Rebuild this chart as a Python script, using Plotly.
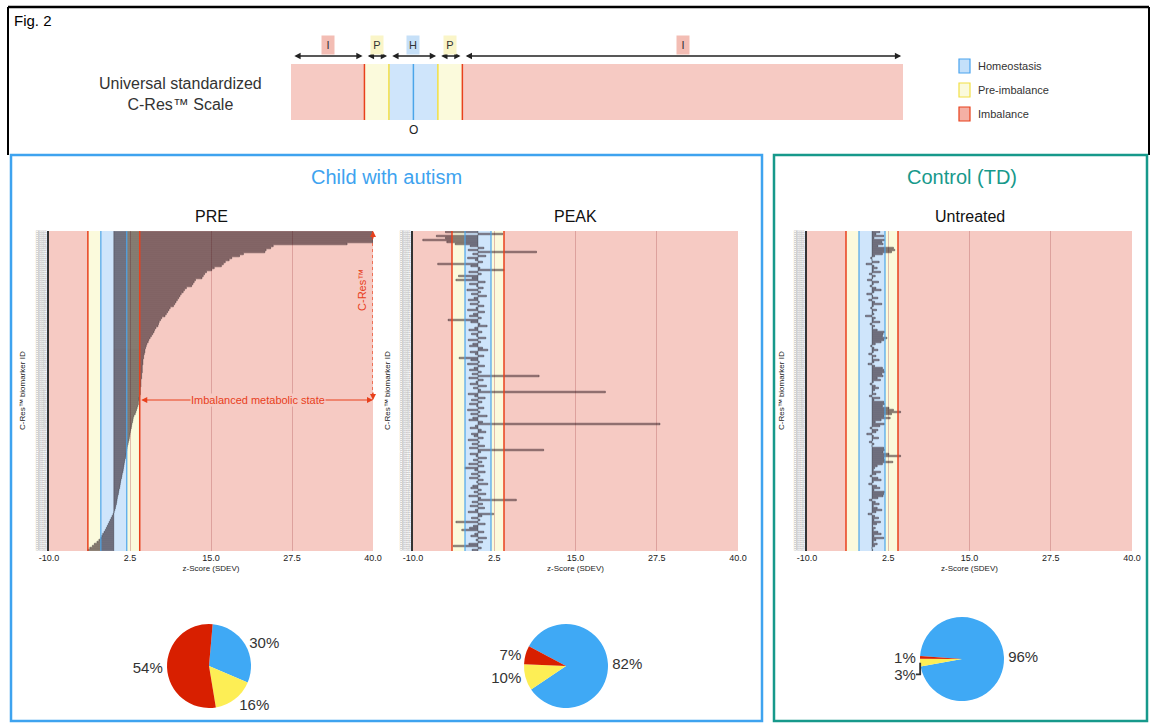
import plotly.graph_objects as go

# ---------------- DATA ----------------
Z_TICKS = [-10, 2.5, 15, 27.5, 40]
Z_TICK_TEXT = ["-10.0", "2.5", "15.0", "27.5", "40.0"]
Z_RANGE = [-10, 40]

# zone limits of the C-Res scale (z-score)
ZONES = [(-10, -4, "I"), (-4, -2, "P"), (-2, 2, "H"), (2, 4, "P"), (4, 40, "I")]

PIE_LABELS = ["Homeostasis", "Pre-imbalance", "Imbalance"]
PRE_PIE = [30, 16, 54]
PEAK_PIE = [82, 10, 7]
UNTREATED_PIE = [96, 3, 1]

# PRE z-scores, top row to bottom row
PRE_Z = [40, 40, 40, 40, 40, 40, 36,
         24.6, 24.2, 23.5, 23.3, 20.0, 19.4, 18.2, 17.8, 17.2, 16.9, 16.6,
         15.5, 15.1, 14.3, 14.0, 13.8, 13.6, 12.6, 12.4, 12.2, 12.0,
         11.2, 10.9, 10.7, 10.4, 10.2, 10.0, 9.8, 9.6, 9.4, 9.2,
         8.7, 8.5, 8.3, 8.1, 7.9, 7.4, 7.2, 7.0, 6.9, 6.8,
         6.5, 6.3, 6.2, 6.0, 5.8, 5.6, 5.4, 5.3, 5.1, 5.0,
         4.9, 4.8, 4.8, 4.7, 4.6, 4.6,
         4.5, 4.5, 4.5, 4.4, 4.4, 4.4, 4.4, 4.3, 4.3, 4.3,
         4.2, 4.2, 4.2, 4.2, 4.1, 4.1, 4.1, 4.1, 4.0,
         3.9, 3.9, 3.8, 3.8, 3.7, 3.6, 3.5, 3.4, 3.3, 3.1,
         3.0, 2.95, 2.9, 2.8, 2.75, 2.7, 2.6, 2.55,
         2.5, 2.45, 2.4, 2.35, 2.25, 2.2, 2.1, 2.05,
         2.0, 1.95, 1.9, 1.85, 1.8, 1.7, 1.65, 1.6, 1.55,
         1.5, 1.45, 1.4, 1.3, 1.25, 1.2, 1.1, 1.05,
         1.0, 0.95, 0.9, 0.8, 0.75, 0.7, 0.6, 0.55,
         0.5, 0.45, 0.4, 0.3, 0.25, 0.15, 0.05,
         -0.1, -0.25, -0.4, -0.55, -0.7, -0.85, -1.0,
         -1.15, -1.3, -1.5, -1.7, -1.85,
         -2.0, -2.3, -2.6, -3.0, -3.3, -3.7, -4.0]

PEAK_Z = [-5.0, 3.8, -6.4, -5.0, -8.5, -4.8, -3.5, -1.2, 0.9, -1.5,
          9.0, -0.8, 1.2, -1.6, -0.4, 0.7, -6.2, -1.1, 0.3, 4.0,
          -1.4, 0.5, -3.0, -0.9, -3.4, 1.1, -1.3, -0.2, 0.8, -1.7,
          0.4, -1.0, 1.3, -0.6, -1.5, 0.2, -1.2, 0.9, -0.3, -1.6,
          1.0, -0.7, -1.3, 0.5, -4.6, -1.1, 0.3, 1.4, -0.5, -1.4,
          0.6, -1.0, -0.2, 1.2, -1.5, 0.4, -0.8, -1.3, 0.7, 1.5,
          -1.2, -0.4, 0.9, -2.9, -1.1, 0.2, -1.6, 1.0, -0.6, -1.3,
          0.5, -0.9, 9.4, -1.4, 0.8, -0.3, -1.2, 1.3, -0.7, 0.4,
          19.6, -1.5, -0.5, 1.1, -1.0, 0.6, -1.3, -0.2, 0.9, -1.6,
          0.3, -1.1, 1.4, -0.8, -1.4, 0.7, 28.0, -0.4, -1.2, 0.5,
          1.2, -1.0, -0.6, 0.8, -1.5, 0.2, -0.9, 1.0, -1.3, 10.1,
          0.4, -1.2, -0.3, 1.3, -0.7, 0.6, -1.4, 0.9, -2.0, -0.5,
          1.1, -1.0, 0.3, -1.3, 0.8, -0.2, 1.5, -0.8, -1.1, 0.5,
          -0.6, 1.2, -1.4, 0.4, 5.9, -0.9, 0.7, -1.2, 1.0, -0.4,
          -1.5, 2.4, 0.6, -1.0, 0.3, -3.4, 1.1, -0.7, -1.3, -2.5,
          0.9, -0.5, -1.1, 1.3, -0.3, 0.7, -1.4, -3.8, 0.5, -0.9]

UNTREATED_Z = [1.2, 0.6, 1.8, 0.3, 1.9, 1.5, 1.7, 0.9, 3.3, 3.5,
               3.0, 1.6, 0.4, -0.2, 0.0, 1.1, -0.9, 0.3, 0.8, 0.2,
               1.3, -0.4, 0.5, 0.1, -0.7, 1.0, 0.2, -0.3, 0.6, 1.4,
               0.3, -0.8, 0.1, 0.9, -0.5, 0.4, 1.5, 0.2, -0.2, 0.7,
               0.1, 0.3, -1.0, 0.5, 0.2, 1.2, -0.3, 0.4, 0.1, 0.8,
               1.9, 1.7, 1.6, 2.3, 1.8, 1.4, 0.5, -0.2, 0.3, 0.9,
               0.2, -0.5, 0.6, 0.1, 1.1, 0.3, -0.6, 0.4, 1.6, 1.8,
               1.9, 1.5, 1.7, 0.8, 1.3, 0.2, -0.3, 0.5, 1.0, 0.4,
               0.1, 0.6, -0.4, 1.2, 0.3, 1.8, 1.9, 1.6, 2.6, 3.3,
               4.4, 3.0, 1.8, 2.8, 1.4, 0.5, 1.9, 1.2, -0.3, 0.9,
               0.6, -0.8, 0.2, 1.0, 0.1, -0.4, 0.3, 0.0, 1.8, 1.9,
               1.7, 2.6, 4.4, 1.8, 1.9, 3.2, 1.6, 0.8, 0.4, 0.2,
               1.3, 0.6, -0.3, 0.9, 1.4, 0.2, -0.5, 0.7, 1.2, 0.3,
               1.9, 1.8, 1.7, 0.9, -0.4, 0.5, 1.1, 0.2, 0.8, 1.5,
               0.6, -0.6, 0.4, 1.0, 0.3, 1.3, 0.7, 0.1, 0.5, 0.2,
               0.9, 1.4, 0.3, 1.8, 0.6, 0.2, 0.8, 0.4, 0.0, 0.1]

ROWS = list(range(len(PRE_Z)))
BIOMARKER_IDS = ["CR%04d" % (i + 1) for i in ROWS]

# ---------------- STYLE ----------------
W, H = 1150, 723
FONT = "Liberation Sans, Arial, Helvetica, sans-serif"
PINK, YEL, BLUE = "#f6cac3", "#fbfadc", "#cfe5fb"
ZONE_FILL = {"I": PINK, "P": YEL, "H": BLUE}
LAB_FILL = {"I": "#f3bdb4", "P": "#faf5c8", "H": "#c6e0f8"}
RED_LINE, BLUE_LINE, YEL_LINE = "#e8401c", "#4ba5ea", "#f2df45"
PIE_COLORS = ["#3fa9f5", "#fdee55", "#d81f00"]
BAR_FILL = "rgba(60,15,20,0.42)"
BAR_EDGE = "rgba(5,8,18,0.75)"
AUTISM_BLUE = "#3ea3ef"
TEAL = "#17998b"


def px(x):
    return x / W


def py(y):
    return 1 - y / H


def note(x, y, text, size=11, color="#222", xanchor="center", **kw):
    d = dict(xref="paper", yref="paper", x=px(x), y=py(y), text=text, showarrow=False,
             xanchor=xanchor, yanchor="middle", font=dict(size=size, color=color))
    d.update(kw)
    return d


fig = go.Figure()
shapes, annots = [], []

# ---------------- top scale ----------------
fig.update_layout(
    xaxis=dict(domain=[px(291), px(903)], range=Z_RANGE, visible=False, anchor="y",
               fixedrange=True, automargin=False),
    yaxis=dict(domain=[py(140), py(30)], range=[0, 110], visible=False, anchor="x",
               fixedrange=True, automargin=False),
)
for a, b, k in ZONES:
    shapes.append(dict(type="rect", xref="x", yref="y", x0=a, x1=b, y0=20, y1=76,
                       fillcolor=ZONE_FILL[k], line_width=0, layer="below"))
for v, c in [(-4, RED_LINE), (4, RED_LINE), (-2, YEL_LINE), (2, YEL_LINE), (0, BLUE_LINE)]:
    shapes.append(dict(type="line", xref="x", yref="y", x0=v, x1=v, y0=20, y1=76,
                       line=dict(color=c, width=1.5)))
for a, b, k in ZONES:
    annots.append(dict(xref="x", yref="y", axref="x", ayref="y", x=b - 0.15, y=84,
                       ax=a + 0.15, ay=84, text="", showarrow=True, arrowside="end+start",
                       arrowhead=2, arrowsize=0.9, arrowwidth=1.4, arrowcolor="#222"))
    annots.append(dict(xref="x", yref="y", x=(a + b) / 2, y=95, text=k, showarrow=False,
                       xanchor="center", yanchor="middle", width=12, height=18,
                       bgcolor=LAB_FILL[k], borderpad=0, font=dict(size=11, color="#333")))
annots.append(dict(xref="x", yref="y", x=0, y=10, text="O", showarrow=False,
                   xanchor="center", yanchor="middle", font=dict(size=12, color="#222")))
annots.append(note(180, 94, "Universal standardized<br>C-Res™ Scale", size=16, color="#333"))

# legend
for i, (name, fill, edge) in enumerate([("Homeostasis", "#c4e0fa", "#4aa3ee"),
                                          ("Pre-imbalance", "#fbfadc", "#f2df45"),
                                          ("Imbalance", "#f4b0a5", "#e8401c")]):
    yc = 66 + 24 * i
    shapes.append(dict(type="rect", xref="paper", yref="paper", x0=px(959), x1=px(970),
                       y0=py(yc + 7), y1=py(yc - 7), fillcolor=fill, line=dict(color=edge, width=1.2)))
    annots.append(note(976, yc, name, size=11, color="#333", xanchor="left"))

# frames
shapes += [
    dict(type="line", xref="paper", yref="paper", x0=px(8), x1=px(1149), y0=py(7), y1=py(7), line=dict(color="#000", width=2.5)),
    dict(type="line", xref="paper", yref="paper", x0=px(8), x1=px(8), y0=py(7), y1=py(155), line=dict(color="#000", width=2)),
    dict(type="line", xref="paper", yref="paper", x0=px(1149), x1=px(1149), y0=py(7), y1=py(155), line=dict(color="#000", width=2)),
    dict(type="rect", xref="paper", yref="paper", x0=px(11), x1=px(762), y0=py(721), y1=py(155), line=dict(color=AUTISM_BLUE, width=2.5)),
    dict(type="rect", xref="paper", yref="paper", x0=px(774), x1=px(1147), y0=py(721), y1=py(155), line=dict(color=TEAL, width=2.5)),
]
annots.append(note(12, 20, "Fig. 2", size=15, color="#000", xanchor="left"))
annots.append(note(386, 177, "Child with autism", size=20, color=AUTISM_BLUE))
annots.append(note(962, 177, "Control (TD)", size=20, color=TEAL))

# ---------------- bar panels ----------------
panels = [("PRE", PRE_Z, 2, 49, 373, 22),
          ("PEAK", PEAK_Z, 3, 413, 738, 387),
          ("Untreated", UNTREATED_Z, 4, 807, 1132, 781)]
for title, vals, n, xl, xr, ytx in panels:
    xa, ya = "x%d" % n, "y%d" % n
    fig.add_trace(go.Bar(x=vals, y=ROWS, orientation="h", xaxis=xa, yaxis=ya,
                         marker=dict(color=BAR_FILL, line=dict(color=BAR_EDGE, width=0.45)),
                         showlegend=False, hoverinfo="x"))
    fig.update_layout(**{
        "xaxis%d" % n: dict(domain=[px(xl), px(xr)], range=Z_RANGE, anchor=ya, automargin=False,
                            tickvals=Z_TICKS, ticktext=Z_TICK_TEXT, tickfont=dict(size=9, color="#222"),
                            showgrid=True, gridcolor="rgba(190,110,110,0.45)", gridwidth=1,
                            zeroline=False, showline=False, ticks="",
                            title=dict(text="z-Score (SDEV)", font=dict(size=8, color="#222"), standoff=3)),
        "yaxis%d" % n: dict(domain=[py(551), py(231)], range=[len(vals) - 0.5, -0.5], anchor=xa,
                            automargin=False,
                            tickvals=ROWS, ticktext=BIOMARKER_IDS, tickfont=dict(size=3, color="#b0b0b0"),
                            showgrid=False, zeroline=False, showline=True, linecolor="#333", linewidth=1.5,
                            ticks=""),
    })
    for a, b, k in ZONES:
        shapes.append(dict(type="rect", xref=xa, yref=ya + " domain", x0=a, x1=b, y0=0, y1=1,
                           fillcolor=ZONE_FILL[k], line_width=0, layer="below"))
    for v, c, w in [(-4, RED_LINE, 1.5), (4, RED_LINE, 1.5), (-2, BLUE_LINE, 1.2), (2, BLUE_LINE, 1.2)]:
        shapes.append(dict(type="line", xref=xa, yref=ya + " domain", x0=v, x1=v, y0=0, y1=1,
                           line=dict(color=c, width=w), layer="above"))
    annots.append(note((xl + xr) / 2, 216, title, size=16, color="#111"))
    annots.append(note(ytx, 391, "C-Res™ biomarker ID", size=8, textangle=-90))

# PRE annotations: imbalanced state + C-Res arrows
ARROW_ROW = 84
annots.append(dict(xref="x2", yref="y2", axref="x2", ayref="y2", x=40, y=ARROW_ROW, ax=4, ay=ARROW_ROW,
                   text="", showarrow=True, arrowside="end+start", arrowhead=2, arrowsize=1,
                   arrowwidth=1.2, arrowcolor=RED_LINE))
annots.append(dict(xref="x2", yref="y2", x=22.3, y=ARROW_ROW, text="Imbalanced metabolic state",
                   showarrow=False, xanchor="center", yanchor="middle",
                   bgcolor=PINK, borderpad=0, font=dict(size=11, color=RED_LINE)))
shapes.append(dict(type="line", xref="x2", yref="y2", x0=40, x1=40, y0=-0.5, y1=ARROW_ROW,
                   line=dict(color=RED_LINE, width=1.3, dash="dot"), layer="above"))
annots.append(dict(xref="x2", yref="y2", x=40, y=-0.5, ax=0, ay=9, text="", showarrow=True,
                   arrowhead=2, arrowsize=1, arrowwidth=1.2, arrowcolor=RED_LINE))
annots.append(dict(xref="x2", yref="y2", x=40, y=ARROW_ROW, ax=0, ay=-9, text="", showarrow=True,
                   arrowhead=2, arrowsize=1, arrowwidth=1.2, arrowcolor=RED_LINE))
annots.append(dict(xref="x2", yref="y2", x=38.3, y=29, text="C-Res™", textangle=-90, showarrow=False,
                   xanchor="center", yanchor="middle", font=dict(size=11, color=RED_LINE)))

# ---------------- pies ----------------
pies = [(PRE_PIE, 209, 666, 5), (PEAK_PIE, 566, 666, 298), (UNTREATED_PIE, 962, 659, 274)]
for vals, cx, cy, rot in pies:
    r = 42
    fig.add_trace(go.Pie(values=vals, labels=PIE_LABELS, sort=False, direction="clockwise",
                         rotation=rot, marker=dict(colors=PIE_COLORS, line=dict(width=0)),
                         domain=dict(x=[px(cx - r), px(cx + r)], y=[py(cy + r), py(cy - r)]),
                         textposition="outside", texttemplate="%{value}%", automargin=False,
                         textfont=dict(size=15, color="#333"), showlegend=False,
                         hoverinfo="label+value"))

fig.update_layout(width=W, height=H, margin=dict(l=0, r=0, t=0, b=0, autoexpand=False),
                  autosize=False,
                  paper_bgcolor="white", plot_bgcolor="white",
                  font=dict(family=FONT, color="#222"), bargap=0.2,
                  shapes=shapes, annotations=annots, showlegend=False)

fig.write_html("out.html", config={"displayModeBar": False},
               post_script="document.body.style.margin='0';")
